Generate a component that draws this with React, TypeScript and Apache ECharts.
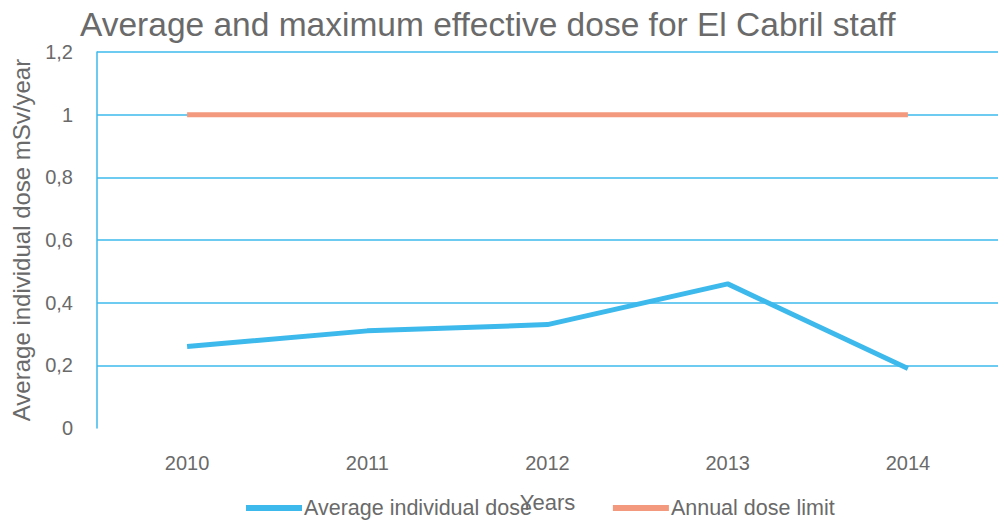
import React, { useEffect, useRef } from "react";
import * as echarts from "echarts";

const years = ["2010", "2011", "2012", "2013", "2014"];
const averageDose = [0.26, 0.31, 0.33, 0.46, 0.19];
const doseLimit = [1, 1, 1, 1, 1];
const yTicks = [0, 0.2, 0.4, 0.6, 0.8, 1, 1.2];

const BLUE = "#3db9ec";
const ORANGE = "#f3997e";
const GRAY = "#6a6a6a";
const FONT = "'Liberation Sans', 'DejaVu Sans', sans-serif";

export default function App() {
  const ref = useRef<HTMLDivElement>(null);
  useEffect(() => {
    if (!ref.current) return;
    const chart = echarts.init(ref.current, undefined, { renderer: "svg" });
    chart.setOption({
      animation: false,
      backgroundColor: "#ffffff",
      title: {
        text: "Average and maximum effective dose for El Cabril staff",
        left: 75,
        top: 2,
        textStyle: { color: GRAY, fontSize: 33.5, fontWeight: "normal", fontFamily: FONT },
      },
      grid: { left: 97, right: 0, top: 52, bottom: 92, containLabel: false, outerBoundsMode: "none" },
      legend: {
        left: 241,
        top: 492,
        itemWidth: 56,
        itemHeight: 6,
        itemGap: 81,
        icon: "rect",
        textStyle: { color: GRAY, fontSize: 21.5, fontFamily: FONT, padding: [0, 0, 0, -3] },
        data: ["Average individual dose", "Annual dose limit"],
      },
      xAxis: {
        type: "category",
        data: years,
        boundaryGap: true,
        name: "Years",
        nameLocation: "middle",
        nameGap: 63,
        nameTextStyle: { color: GRAY, fontSize: 22, fontFamily: FONT },
        axisLine: { show: false },
        axisTick: { show: false },
        axisLabel: { color: GRAY, fontSize: 20, fontFamily: FONT, margin: 25 },
      },
      yAxis: {
        type: "value",
        min: 0,
        max: 1.2,
        interval: 0.2,
        name: "Average individual dose mSv/year",
        nameLocation: "middle",
        nameGap: 64,
        nameTextStyle: { color: GRAY, fontSize: 24, fontFamily: FONT },
        axisLine: { show: true, lineStyle: { color: BLUE, width: 1.5 } },
        axisTick: { show: false },
        axisLabel: {
          color: GRAY,
          fontSize: 20,
          fontFamily: FONT,
          margin: 24,
          formatter: (v: number) => {
            const t = yTicks.find((x) => Math.abs(x - v) < 1e-9);
            const val = t !== undefined ? t : v;
            return String(Math.round(val * 10) / 10).replace(".", ",");
          },
        },
        splitLine: {
          show: true,
          lineStyle: {
            color: ["rgba(0,0,0,0)", BLUE, BLUE, BLUE, BLUE, BLUE, BLUE],
            width: 1.5,
          },
        },
      },
      series: [
        {
          name: "Average individual dose",
          type: "line",
          data: averageDose,
          symbol: "none",
          lineStyle: { color: BLUE, width: 5 },
          itemStyle: { color: BLUE },
          z: 3,
        },
        {
          name: "Annual dose limit",
          type: "line",
          data: doseLimit,
          symbol: "none",
          lineStyle: { color: ORANGE, width: 5 },
          itemStyle: { color: ORANGE },
          z: 3,
        },
      ],
    });
    return () => chart.dispose();
  }, []);
  return <div ref={ref} style={{ width: 998, height: 520, position: "absolute", left: 0, top: 0 }} />;
}
